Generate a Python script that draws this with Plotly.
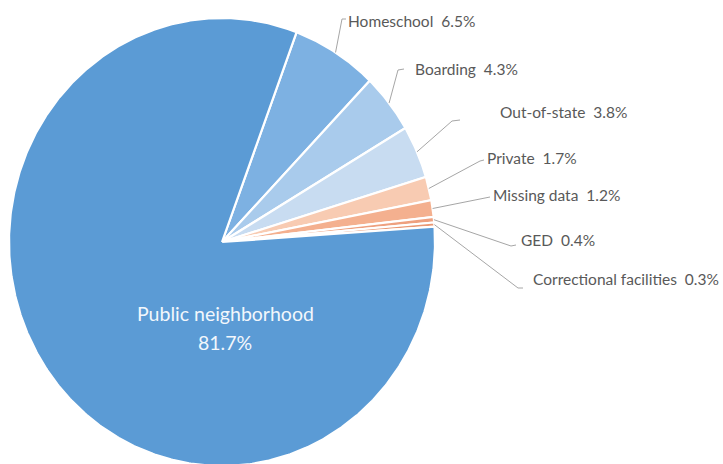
import numpy as np
import plotly.graph_objects as go

# School setting shares (percent)
categories = ["Homeschool", "Boarding", "Out-of-state", "Private", "Missing data",
              "GED", "Correctional facilities", "Public neighborhood"]
shares = [6.5, 4.3, 3.8, 1.7, 1.2, 0.4, 0.3, 81.7]
colors = ["#7DB1E2", "#A9CBEC", "#C8DCF1", "#F8CBB2", "#F4B08F",
          "#EEA07F", "#E99874", "#5B9BD5"]

W, H = 723, 464
CX, CY = 222, 242          # pie centre in pixels
RX, RY = 213, 224          # pixel size of one data unit along x / y
START = 20.5               # first slice starts this many degrees clockwise from 12 o'clock


def to_data(px, py):
    return (px - CX) / RX, (CY - py) / RY


# leader-line elbow points and label anchors (pixels), one per outside label
elbows = [
    [(342, 19), (346, 19)],
    [(398, 70), (404, 69)],
    [(452, 121), (460, 120)],
    [(480, 161), (484, 160)],
    [(486, 198), (490, 197)],
    [(511, 246), (516, 245)],
    [(518, 288), (523, 288)],
]
label_pos = [(346, 21), (413, 69), (498, 112), (485, 158), (491, 195), (519, 240), (531, 279)]

fig = go.Figure()

total = sum(shares)
angles = [START]
for s in shares:
    angles.append(angles[-1] + s / total * 360.0)

# slices
for i, (name, s, c) in enumerate(zip(categories, shares, colors)):
    a0, a1 = angles[i], angles[i + 1]
    th = np.radians(np.linspace(a0, a1, max(8, int((a1 - a0) * 2))))
    xs = np.concatenate([[0], np.sin(th), [0]])
    ys = np.concatenate([[0], np.cos(th), [0]])
    fig.add_trace(go.Scatter(x=xs, y=ys, mode="lines", fill="toself",
                             fillcolor=c, line=dict(color="white", width=2.2),
                             hoverinfo="skip", showlegend=False))

# leader lines and outside labels
annotations = []
for i in range(len(categories) - 1):
    mid = np.radians((angles[i] + angles[i + 1]) / 2)
    pts = [(np.sin(mid) * 1.0, np.cos(mid) * 1.0)] + [to_data(*p) for p in elbows[i]]
    fig.add_trace(go.Scatter(x=[p[0] for p in pts], y=[p[1] for p in pts], mode="lines",
                             line=dict(color="#A6A6A6", width=1),
                             hoverinfo="skip", showlegend=False))
    lx, ly = label_pos[i]
    annotations.append(dict(
        x=lx / W, y=1 - ly / H, xref="paper", yref="paper",
        xanchor="left", yanchor="middle", showarrow=False,
        text=f"{categories[i]}\u00a0\u00a0{shares[i]:.1f}%",
        font=dict(family="Lato, sans-serif", size=15.5, color="#595959")))

# label inside the large slice
annotations.append(dict(x=225 / W, y=1 - 313 / H, xref="paper", yref="paper",
                        xanchor="center", yanchor="middle", showarrow=False,
                        text=categories[-1],
                        font=dict(family="Lato, sans-serif", size=19.5, color="#F2F7FC")))
annotations.append(dict(x=225 / W, y=1 - 342 / H, xref="paper", yref="paper",
                        xanchor="center", yanchor="middle", showarrow=False,
                        text=f"{shares[-1]:.1f}%",
                        font=dict(family="Lato, sans-serif", size=19.5, color="#F2F7FC")))

fig.update_layout(
    width=W, height=H,
    margin=dict(l=0, r=0, t=0, b=0),
    paper_bgcolor="white", plot_bgcolor="white",
    xaxis=dict(range=[(0 - CX) / RX, (W - CX) / RX], visible=False, fixedrange=True),
    yaxis=dict(range=[(CY - H) / RY, CY / RY], visible=False, fixedrange=True),
    annotations=annotations,
    showlegend=False,
)

fig.write_html("out.html")
